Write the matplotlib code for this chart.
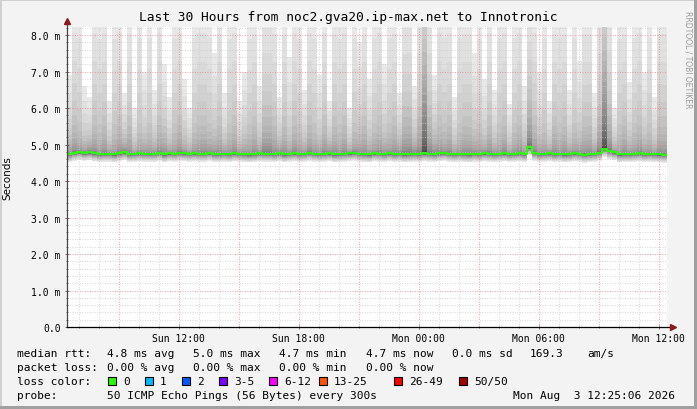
import numpy as np
import pandas as pd
import matplotlib
matplotlib.use("Agg")
import matplotlib.pyplot as plt
import matplotlib.dates as mdates
from matplotlib.patches import Rectangle

# 30 hours ending at the graph time, one column every 15 minutes
start = pd.Timestamp("2026-08-02 06:25:06")
end = pd.Timestamp("2026-08-03 12:25:06")

# median rtt per column (ms)
median_ms = [
    4.74, 4.78, 4.80, 4.77, 4.79, 4.76, 4.74, 4.75, 4.75, 4.73, 4.76, 4.79, 4.74, 4.75, 4.76,
    4.75, 4.75, 4.75, 4.77, 4.73, 4.76, 4.75, 4.77, 4.76, 4.75, 4.76, 4.75, 4.75, 4.77, 4.74,
    4.74, 4.75, 4.74, 4.76, 4.75, 4.74, 4.73, 4.74, 4.76, 4.75, 4.75, 4.74, 4.76, 4.73, 4.75,
    4.76, 4.74, 4.75, 4.77, 4.75, 4.74, 4.75, 4.76, 4.73, 4.74, 4.75, 4.76, 4.78, 4.75, 4.74,
    4.73, 4.76, 4.75, 4.74, 4.76, 4.74, 4.75, 4.73, 4.74, 4.75, 4.74, 4.76, 4.75, 4.74, 4.76,
    4.77, 4.75, 4.74, 4.75, 4.74, 4.73, 4.75, 4.74, 4.76, 4.75, 4.74, 4.75, 4.76, 4.74, 4.75,
    4.76, 4.74, 4.92, 4.78, 4.74, 4.75, 4.76, 4.74, 4.75, 4.73, 4.74, 4.76, 4.75, 4.72, 4.74,
    4.75, 4.78, 4.88, 4.82, 4.79, 4.73, 4.74, 4.74, 4.75, 4.76, 4.74, 4.75, 4.74, 4.73, 4.72,
]

# slowest ping per column (ms); 9 and up runs off the top of the graph
top_ms = [
    6.9, 9, 9, 6.6, 6.3, 9, 9, 9, 6.2, 9, 9, 6.4, 9, 6.0, 9,
    7.0, 9, 6.5, 9, 7.2, 6.3, 9, 9, 6.8, 6.0, 9, 9, 9, 9, 7.5,
    9, 6.4, 9, 9, 6.2, 7.0, 9, 9, 6.6, 9, 9, 9, 6.3, 9, 7.4,
    9, 9, 6.5, 9, 9, 6.9, 9, 6.2, 9, 9, 9, 6.0, 9, 7.8, 9,
    6.8, 9, 9, 7.2, 9, 9, 6.4, 9, 9, 6.6, 9, 10, 9, 6.9, 9,
    9, 9, 6.3, 9, 9, 9, 7.5, 9, 6.8, 9, 6.5, 9, 9, 6.1, 9,
    9, 6.6, 9, 9, 7.0, 9, 6.2, 9, 9, 9, 6.5, 9, 7.3, 9, 9,
    6.4, 9, 10, 9, 6.0, 9, 9, 6.7, 9, 9, 7.0, 9, 6.3, 9, 9,
]

# how tightly the pings crowd round the median (bigger = lighter smoke)
tail = [
    6, 6, 7, 6, 5, 6, 7, 6, 6, 7, 6, 5, 6, 6, 7,
    6, 7, 6, 6, 5, 6, 7, 6, 6, 6, 7, 6, 6, 7, 6,
    6, 6, 7, 6, 6, 6, 7, 6, 6, 5, 5, 6, 5, 6, 7,
    6, 7, 6, 6, 7, 6, 6, 5, 6, 7, 6, 6, 7, 6, 6,
    6, 7, 6, 6, 7, 6, 5, 5, 5, 5, 5, 2.2, 5, 5, 6,
    7, 6, 6, 7, 6, 6, 6, 7, 6, 6, 6, 7, 6, 6, 7,
    6, 6, 4, 6, 6, 7, 6, 6, 7, 6, 6, 7, 6, 6, 6,
    6, 5, 2.2, 5, 6, 7, 6, 6, 7, 6, 6, 7, 6, 6, 6,
]

loss_labels = ["0", "1", "2", "3-5", "6-12", "13-25", "26-49", "50/50"]
loss_colors = ["#26ff00", "#00b8ff", "#0059ff", "#7e00ff", "#ff00ff", "#ff5500", "#ff0000", "#a10000"]

W, H = 697, 410
mono = "DejaVu Sans Mono"

# -------------------------------
# 50 sorted pings per column
# -------------------------------
med = np.array(median_ms)
top = np.array(top_ms)
g = np.array(tail)
low = med - 0.22
k = np.arange(25)[:, None]
lower = med - (med - low) * ((24 - k) / 24.0) ** 2
upper = med + (top - med) * (k / 24.0) ** g
pings = np.vstack([lower, upper])

times = pd.date_range(start, periods=len(med) + 1, freq="15min")
x = mdates.date2num(times.to_pydatetime())
pings = np.hstack([pings, pings[:, -1:]])

fig = plt.figure(figsize=(W / 100, H / 100), dpi=100, facecolor="#f3f3f3")
ax = fig.add_axes([67 / W, 1 - 328 / H, 600 / W, 300 / H])
ax.set_facecolor("white")

# smoke: outer pairs light, inner pairs dark
for i in range(25):
    level = int(190 / 25 * (24 - i)) + 50
    c = "#%02x%02x%02x" % (level, level, level)
    ax.fill_between(x, pings[i], pings[49 - i], step="post", color=c, lw=0, zorder=1)

ax.plot(x, np.append(med, med[-1]), drawstyle="steps-post", color="#26ff00", lw=1.4, zorder=5)

ax.set_xlim(x[0], mdates.date2num(end.to_pydatetime()))
ax.set_ylim(0, 8.22)

# grid
for yv in np.arange(0.2, 8.21, 0.2):
    major = abs(yv - round(yv)) < 1e-6
    ax.axhline(yv, color="#f08080" if major else "#c8c8c8", lw=0.6,
               ls=(0, (1, 2)), zorder=3)
for hr in pd.date_range("2026-08-02 07:00", "2026-08-03 12:00", freq="h"):
    ax.axvline(mdates.date2num(hr.to_pydatetime()),
               color="#f08080" if hr.hour % 3 == 0 else "#c8c8c8",
               lw=0.6, ls=(0, (1, 2)), zorder=3)

for s in ax.spines.values():
    s.set_visible(False)

ax.yaxis.set_major_locator(plt.MultipleLocator(1))
ax.yaxis.set_major_formatter(plt.FuncFormatter(lambda v, p: "0.0" if v == 0 else "%.1f m" % v))
ax.yaxis.set_minor_locator(plt.MultipleLocator(0.2))
ax.xaxis.set_major_locator(mdates.HourLocator(byhour=[0, 6, 12, 18]))
ax.xaxis.set_major_formatter(mdates.DateFormatter("%a %H:%M"))
ax.xaxis.set_minor_locator(mdates.HourLocator())
ax.tick_params(axis="both", which="major", length=3, width=0.6, color="#555555",
               labelsize=7, pad=3, direction="inout")
ax.tick_params(axis="both", which="minor", length=2, width=0.6, color="#555555", direction="inout")
for lab in ax.get_xticklabels() + ax.get_yticklabels():
    lab.set_family(mono)

# axes with arrow heads
ax.plot([0, 0], [0, 1.02], transform=ax.transAxes, color="#444444", lw=0.9, clip_on=False, zorder=6)
ax.plot([0, 1.01], [0, 0], transform=ax.transAxes, color="#000000", lw=0.9, clip_on=False, zorder=6)
ax.plot([0], [1.02], transform=ax.transAxes, marker="^", ms=4, color="#8b1a1a", clip_on=False, zorder=7)
ax.plot([1.01], [0], transform=ax.transAxes, marker=">", ms=4, color="#8b1a1a", clip_on=False, zorder=7)

ax.set_ylabel("Seconds", fontsize=7.5, family="DejaVu Sans", labelpad=4)
ax.yaxis.set_label_coords(-55 / 600, 0.5)


def px(xp, yp):
    return xp / W, 1 - yp / H


fig.text(*px(348, 18), "Last 30 Hours from noc2.gva20.ip-max.net to Innotronic",
         ha="center", va="center", family=mono, fontsize=9.3)
fig.text(*px(688, 60), "RRDTOOL / TOBI OETIKER", rotation=270, ha="center", va="center",
         fontsize=5.5, color="#9a9a9a")

# legend rows
legend_font = dict(family=mono, fontsize=8, va="center", ha="left")
rows = [
    (354, [(17, "median rtt:"), (107, "4.8 ms avg"), (193, "5.0 ms max"), (279, "4.7 ms min"),
           (366, "4.7 ms now"), (452, "0.0 ms sd"), (530, "169.3"), (587, "am/s")]),
    (368, [(17, "packet loss:"), (107, "0.00 % avg"), (193, "0.00 % max"), (279, "0.00 % min"),
           (366, "0.00 % now")]),
    (382, [(17, "loss color:")]),
    (396, [(17, "probe:"), (107, "50 ICMP Echo Pings (56 Bytes) every 300s"),
           (513, "Mon Aug  3 12:25:06 2026")]),
]
for yp, items in rows:
    for xp, txt in items:
        fig.text(*px(xp, yp), txt, **legend_font)

box_x = [108, 145, 182, 219, 269, 319, 394, 459]
for bx, lab, col in zip(box_x, loss_labels, loss_colors):
    fig.patches.append(Rectangle(px(bx, 386), 8 / W, 8 / H, transform=fig.transFigure,
                                 facecolor=col, edgecolor="black", lw=0.8))
    fig.text(*px(bx + 15, 382), lab, **legend_font)

# frame around the image
fig.patches.append(Rectangle((0, 1 - 2 / H), 1, 2 / H, transform=fig.transFigure, color="#d0d0d0", lw=0))
fig.patches.append(Rectangle((0, 0), 2 / W, 1, transform=fig.transFigure, color="#d0d0d0", lw=0))
fig.patches.append(Rectangle((0, 0), 1, 3 / H, transform=fig.transFigure, color="#a0a0a0", lw=0))
fig.patches.append(Rectangle((1 - 3 / W, 0), 3 / W, 1, transform=fig.transFigure, color="#a0a0a0", lw=0))

fig.savefig("out.png", dpi=100, facecolor=fig.get_facecolor())
